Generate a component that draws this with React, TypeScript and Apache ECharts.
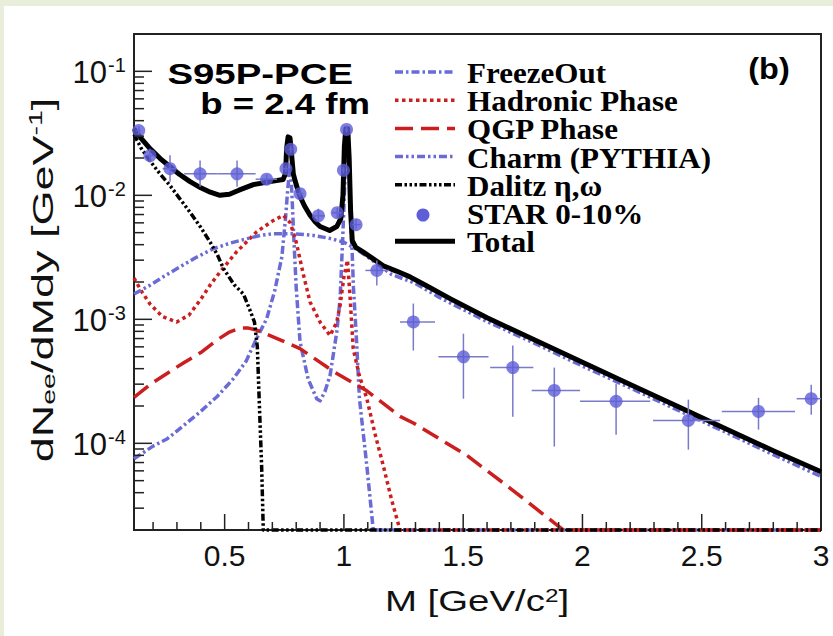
import React, { useEffect, useRef } from "react";
import * as echarts from "echarts";

const X_MIN = 0.12;
const X_MAX = 3.0;
const Y_MIN = 2e-5;
const Y_MAX = 0.2;

// ---------- curves (M in GeV/c^2, dN/dMdy in GeV^-1) ----------
const totalM = [0.12, 0.15, 0.187, 0.23, 0.271, 0.31, 0.355, 0.4, 0.44, 0.48, 0.52, 0.56, 0.62, 0.69, 0.745, 0.755, 0.76, 0.766, 0.774, 0.78, 0.788, 0.8, 0.816, 0.835, 0.858, 0.88, 0.9, 0.94, 0.97, 0.987, 0.996, 1.002, 1.008, 1.016, 1.022, 1.028, 1.035, 1.05, 1.08, 1.12, 1.165, 1.22, 1.277, 1.35, 1.445, 1.6, 1.8, 2.0, 2.2, 2.4, 2.6, 2.8, 3.0];
const totalY = [0.0345, 0.0288, 0.0238, 0.0198, 0.017, 0.0148, 0.0129, 0.0115, 0.0106, 0.01, 0.0102, 0.011, 0.0122, 0.0129, 0.0134, 0.015, 0.024, 0.0296, 0.029, 0.022, 0.0148, 0.0122, 0.0098, 0.0082, 0.0069, 0.0061, 0.0056, 0.0052, 0.0056, 0.0065, 0.01, 0.025, 0.0345, 0.0345, 0.02, 0.0075, 0.0043, 0.0038, 0.0035, 0.0031, 0.0027, 0.00245, 0.0022, 0.00185, 0.00147, 0.00103, 0.00068, 0.00045, 0.000298, 0.000198, 0.000131, 0.000087, 0.000059];

const freezeM = [0.12, 0.2, 0.26, 0.33, 0.397, 0.47, 0.537, 0.59, 0.634, 0.676, 0.71, 0.74, 0.755, 0.765, 0.772, 0.78, 0.79, 0.8, 0.816, 0.85, 0.886, 0.9, 0.92, 0.942, 0.97, 0.984, 0.995, 1.005, 1.012, 1.02, 1.03, 1.04, 1.051, 1.065, 1.096, 1.123, 3.0];
const freezeY = [0.000075, 0.000095, 0.000109, 0.00014, 0.000179, 0.00024, 0.000333, 0.00046, 0.0007, 0.00101, 0.0017, 0.0032, 0.0065, 0.0115, 0.016, 0.0125, 0.0045, 0.0018, 0.00066, 0.00033, 0.000229, 0.00022, 0.00026, 0.000353, 0.00079, 0.00147, 0.0045, 0.015, 0.027, 0.022, 0.006, 0.0018, 0.00079, 0.00023, 0.000066, 0.00002, 0.00002];

const hadronM = [0.12, 0.15, 0.187, 0.24, 0.299, 0.35, 0.4, 0.44, 0.48, 0.55, 0.634, 0.7, 0.746, 0.775, 0.8, 0.83, 0.858, 0.9, 0.942, 0.97, 0.984, 1.0, 1.015, 1.025, 1.039, 1.065, 1.096, 1.13, 1.165, 1.2, 1.235, 3.0];
const hadronY = [0.00215, 0.0017, 0.00133, 0.00105, 0.00095, 0.00108, 0.00145, 0.0019, 0.0024, 0.0035, 0.00507, 0.0062, 0.0069, 0.006, 0.0042, 0.0023, 0.00138, 0.00095, 0.00074, 0.00095, 0.0013, 0.0022, 0.003, 0.0016, 0.00058, 0.00035, 0.00023, 0.00012, 0.000066, 0.000035, 0.00002, 0.00002];

const qgpM = [0.12, 0.2, 0.327, 0.4, 0.467, 0.52, 0.564, 0.6, 0.634, 0.72, 0.816, 0.956, 1.096, 1.235, 1.291, 1.515, 1.7, 1.892, 1.92, 3.0];
const qgpY = [0.000235, 0.00031, 0.000445, 0.00054, 0.00068, 0.00079, 0.00085, 0.00085, 0.00082, 0.0007, 0.00058, 0.00038, 0.000265, 0.000165, 0.000146, 0.00008, 0.000043, 0.000022, 0.00002, 0.00002];

const charmM = [0.12, 0.187, 0.25, 0.313, 0.38, 0.451, 0.52, 0.593, 0.65, 0.704, 0.79, 0.872, 0.94, 0.998, 1.05, 1.109, 1.2, 1.3, 1.4, 1.6, 1.8, 2.0, 2.2, 2.4, 2.6, 2.8, 3.0];
const charmY = [0.0016, 0.00188, 0.00225, 0.00265, 0.00315, 0.0037, 0.0041, 0.00447, 0.00475, 0.0049, 0.0049, 0.00475, 0.0045, 0.0042, 0.0037, 0.00309, 0.0023, 0.00195, 0.0015, 0.00096, 0.00064, 0.00042, 0.00028, 0.000185, 0.000123, 0.000081, 0.000054];

const dalitzM = [0.12, 0.15, 0.187, 0.23, 0.271, 0.31, 0.355, 0.4, 0.439, 0.47, 0.495, 0.54, 0.579, 0.605, 0.625, 0.637, 0.645, 0.655, 0.662, 3.0];
const dalitzY = [0.031, 0.024, 0.019, 0.0148, 0.012, 0.0095, 0.0073, 0.0055, 0.0042, 0.0033, 0.00257, 0.0019, 0.0016, 0.0012, 0.00095, 0.0006, 0.00022, 0.000066, 0.00002, 0.00002];

// ---------- STAR 0-10% data ----------
const starM = [0.14, 0.187, 0.271, 0.397, 0.552, 0.676, 0.757, 0.777, 0.816, 0.893, 0.972, 0.998, 1.011, 1.051, 1.138, 1.291, 1.501, 1.708, 1.882, 2.141, 2.444, 2.738, 2.959];
const starY = [0.0333, 0.0209, 0.0164, 0.0149, 0.0149, 0.0135, 0.0164, 0.0235, 0.0103, 0.00683, 0.00724, 0.0159, 0.034, 0.0058, 0.00248, 0.000953, 0.000498, 0.000408, 0.000267, 0.000218, 0.000153, 0.000181, 0.000229];
const starYLo = [0.031, 0.0184, 0.01285, 0.01175, 0.01175, 0.0122, 0.0155, 0.022, 0.0097, 0.0062, 0.0066, 0.015, 0.032, 0.0053, 0.00187, 0.00056, 0.000229, 0.000164, 0.0000942, 0.0001175, 0.0000889, 0.000129, 0.00017];
const starYHi = [0.036, 0.0238, 0.021, 0.0191, 0.0191, 0.0147, 0.0174, 0.025, 0.011, 0.0078, 0.0079, 0.017, 0.036, 0.0064, 0.00298, 0.00134, 0.000766, 0.000614, 0.000408, 0.000303, 0.000225, 0.000233, 0.000297];
const starMLo = [0.13, 0.175, 0.24, 0.33, 0.47, 0.63, 0.745, 0.77, 0.8, 0.87, 0.95, 0.993, 1.005, 1.035, 1.09, 1.235, 1.396, 1.613, 1.787, 1.99, 2.296, 2.584, 2.898];
const starMHi = [0.15, 0.2, 0.3, 0.47, 0.63, 0.72, 0.77, 0.785, 0.83, 0.92, 0.99, 1.003, 1.017, 1.07, 1.19, 1.382, 1.606, 1.794, 1.99, 2.284, 2.577, 2.891, 3.0];

// ---------- axes ----------
const xMajorTicks = [0.5, 1, 1.5, 2, 2.5, 3];
const xTickLabels = ["0.5", "1", "1.5", "2", "2.5", "3"];
const xMinorTicks = [0.2, 0.3, 0.4, 0.6, 0.7, 0.8, 0.9, 1.1, 1.2, 1.3, 1.4, 1.6, 1.7, 1.8, 1.9, 2.1, 2.2, 2.3, 2.4, 2.6, 2.7, 2.8, 2.9];
const yMajorTicks = [1e-4, 1e-3, 1e-2, 1e-1];
const yTickExponents = ["-4", "-3", "-2", "-1"];
const yMinorMantissas = [2, 3, 4, 5, 6, 7, 8, 9];
const yMinorDecades = [1e-5, 1e-4, 1e-3, 1e-2];

const legendLabels = ["FreezeOut", "Hadronic Phase", "QGP Phase", "Charm (PYTHIA)", "Dalitz \u03b7,\u03c9", "STAR 0-10%", "Total"];

const BLUE = "#6b6bd6";
const BLUE_MARK = "#5e5ed8";
const RED = "#cc1e1e";
const BLACK = "#000000";
const AXIS = "#222222";

const DASH_FREEZE = [8, 3, 2.5, 3];
const DASH_HADRON = [3.5, 3.5];
const DASH_QGP = [18, 8];
const DASH_CHARM = [8, 3, 2.5, 3, 2.5, 3];
const DASH_DALITZ = [7, 2.5, 2.5, 2.5, 2.5, 2.5, 2.5, 2.5];

const SANS = '"Liberation Sans", Arial, Helvetica, sans-serif';
const SERIF = '"Liberation Serif", "Times New Roman", serif';

const pairs = (m: number[], y: number[]) => m.map((v, i) => [v, y[i]]);

export default function App() {
  const ref = useRef<HTMLDivElement>(null);

  useEffect(() => {
    if (!ref.current) return;
    const chart = echarts.init(ref.current, null, { renderer: "svg" });

    const yMinorTicks: number[] = [];
    yMinorDecades.forEach((d) =>
      yMinorMantissas.forEach((k) => {
        const v = k * d;
        if (v > Y_MIN * 1.01 && v < Y_MAX * 0.99) yMinorTicks.push(v);
      })
    );

    const lineSeries = (name: string, m: number[], y: number[], color: string, dash: any, width: number, z: number) => ({
      type: "line",
      name,
      data: pairs(m, y),
      showSymbol: false,
      symbol: "none",
      clip: false,
      z,
      lineStyle: { color, width, type: dash, cap: "butt", join: "round" },
    });

    const starData = starM.map((m, i) => [m, starY[i], starMLo[i], starMHi[i], starYLo[i], starYHi[i]]);

    const legendItems = [
      { kind: "line", color: BLUE, dash: DASH_FREEZE, width: 3.5 },
      { kind: "line", color: RED, dash: DASH_HADRON, width: 3.5 },
      { kind: "line", color: RED, dash: DASH_QGP, width: 3.5 },
      { kind: "line", color: BLUE, dash: DASH_CHARM, width: 3.5 },
      { kind: "line", color: BLACK, dash: DASH_DALITZ, width: 3.5 },
      { kind: "dot", color: BLUE_MARK, dash: null, width: 0 },
      { kind: "line", color: BLACK, dash: null, width: 5 },
    ];

    const legendGraphics: any[] = [];
    legendItems.forEach((it, i) => {
      const y = 72 + 28.2 * i;
      if (it.kind === "line") {
        legendGraphics.push({
          type: "line",
          shape: { x1: 395, y1: y, x2: 455, y2: y },
          style: { stroke: it.color, lineWidth: it.width, lineDash: it.dash || undefined },
          silent: true,
        });
      } else {
        legendGraphics.push({
          type: "circle",
          shape: { cx: 423, cy: y + 2, r: 6.5 },
          style: { fill: it.color },
          silent: true,
        });
      }
      legendGraphics.push({
        type: "text",
        x: 467,
        y: y + 1,
        scaleX: 1.09,
        style: {
          text: legendLabels[i],
          font: `bold 28.5px ${SERIF}`,
          fill: "#000",
          align: "left",
          verticalAlign: "middle",
        },
        silent: true,
      });
    });

    const option: any = {
      animation: false,
      backgroundColor: "#ffffff",
      grid: {
        left: 134,
        top: 34,
        width: 687,
        height: 496,
        show: true,
        borderColor: AXIS,
        borderWidth: 2,
        backgroundColor: "transparent",
        containLabel: false,
      },
      xAxis: {
        type: "value",
        min: X_MIN,
        max: X_MAX,
        axisLine: { show: false },
        axisTick: { show: false },
        axisLabel: { show: false },
        splitLine: { show: false },
      },
      yAxis: {
        type: "log",
        logBase: 10,
        min: Y_MIN,
        max: Y_MAX,
        axisLine: { show: false },
        axisTick: { show: false },
        axisLabel: { show: false },
        splitLine: { show: false },
      },
      series: [
        // x minor ticks
        {
          type: "custom",
          silent: true,
          z: 20,
          data: xMinorTicks.map((v) => [v, Y_MIN]),
          encode: { x: 0, y: 1 },
          renderItem: (params: any, api: any) => {
            const p = api.coord([api.value(0), Y_MIN]);
            return {
              type: "line",
              shape: { x1: p[0], y1: p[1], x2: p[0], y2: p[1] - 8 },
              style: { stroke: AXIS, lineWidth: 1.5 },
            };
          },
        },
        // x major ticks + labels
        {
          type: "custom",
          silent: true,
          z: 20,
          data: xMajorTicks.map((v) => [v, Y_MIN]),
          encode: { x: 0, y: 1 },
          renderItem: (params: any, api: any) => {
            const p = api.coord([api.value(0), Y_MIN]);
            return {
              type: "group",
              children: [
                {
                  type: "line",
                  shape: { x1: p[0], y1: p[1], x2: p[0], y2: p[1] - 16 },
                  style: { stroke: AXIS, lineWidth: 1.5 },
                },
                {
                  type: "text",
                  x: p[0],
                  y: p[1] + 25,
                  style: {
                    text: xTickLabels[params.dataIndex],
                    font: `normal 30px ${SANS}`,
                    fill: "#111",
                    align: "center",
                    verticalAlign: "middle",
                  },
                },
              ],
            };
          },
        },
        // y minor ticks
        {
          type: "custom",
          silent: true,
          z: 20,
          data: yMinorTicks.map((v) => [X_MIN, v]),
          encode: { x: 0, y: 1 },
          renderItem: (params: any, api: any) => {
            const p = api.coord([X_MIN, api.value(1)]);
            return {
              type: "line",
              shape: { x1: p[0], y1: p[1], x2: p[0] + 10, y2: p[1] },
              style: { stroke: AXIS, lineWidth: 1.5 },
            };
          },
        },
        // y major ticks + labels
        {
          type: "custom",
          silent: true,
          z: 20,
          data: yMajorTicks.map((v) => [X_MIN, v]),
          encode: { x: 0, y: 1 },
          renderItem: (params: any, api: any) => {
            const p = api.coord([X_MIN, api.value(1)]);
            return {
              type: "group",
              children: [
                {
                  type: "line",
                  shape: { x1: p[0], y1: p[1], x2: p[0] + 18, y2: p[1] },
                  style: { stroke: AXIS, lineWidth: 1.5 },
                },
                {
                  type: "text",
                  x: p[0] - 27,
                  y: p[1] + 1,
                  style: {
                    text: "10",
                    font: `normal 31px ${SANS}`,
                    fill: "#111",
                    align: "right",
                    verticalAlign: "middle",
                  },
                },
                {
                  type: "text",
                  x: p[0] - 26,
                  y: p[1] - 6,
                  style: {
                    text: yTickExponents[params.dataIndex],
                    font: `normal 20px ${SANS}`,
                    fill: "#111",
                    align: "left",
                    verticalAlign: "middle",
                  },
                },
              ],
            };
          },
        },
        lineSeries(legendLabels[0], freezeM, freezeY, BLUE, DASH_FREEZE, 3.5, 3),
        lineSeries(legendLabels[1], hadronM, hadronY, RED, DASH_HADRON, 3.5, 3),
        lineSeries(legendLabels[2], qgpM, qgpY, RED, DASH_QGP, 3.5, 3),
        lineSeries(legendLabels[3], charmM, charmY, BLUE, DASH_CHARM, 3.5, 3),
        lineSeries(legendLabels[4], dalitzM, dalitzY, BLACK, DASH_DALITZ, 3.5, 3),
        lineSeries(legendLabels[6], totalM, totalY, BLACK, "solid", 5, 5),
        // STAR error bars
        {
          type: "custom",
          name: "STAR errors",
          silent: true,
          z: 6,
          data: starData,
          encode: { x: 0, y: 1 },
          renderItem: (params: any, api: any) => {
            const m = api.value(0);
            const y = api.value(1);
            const c = api.coord([m, y]);
            const l = api.coord([api.value(2), y]);
            const r = api.coord([api.value(3), y]);
            const lo = api.coord([m, api.value(4)]);
            const hi = api.coord([m, api.value(5)]);
            const st = { stroke: "#7a7ac8", lineWidth: 1.5 };
            return {
              type: "group",
              children: [
                { type: "line", shape: { x1: l[0], y1: c[1], x2: r[0], y2: c[1] }, style: st },
                { type: "line", shape: { x1: c[0], y1: hi[1], x2: c[0], y2: lo[1] }, style: st },
              ],
            };
          },
        },
        {
          type: "scatter",
          name: legendLabels[5],
          data: pairs(starM, starY),
          symbol: "circle",
          symbolSize: 13,
          itemStyle: { color: BLUE_MARK },
          z: 7,
        },
      ],
      graphic: [
        { type: "rect", shape: { x: 0, y: 0, width: 833, height: 6 }, style: { fill: "#e8eed9" }, silent: true },
        { type: "rect", shape: { x: 0, y: 0, width: 4, height: 636 }, style: { fill: "#e8eed9" }, silent: true },
        {
          type: "text",
          x: 353,
          y: 74,
          scaleX: 1.28,
          style: { text: "S95P-PCE", font: `bold 30px ${SANS}`, fill: "#000", align: "right", verticalAlign: "middle" },
          silent: true,
        },
        {
          type: "text",
          x: 370,
          y: 104,
          scaleX: 1.22,
          style: { text: "b = 2.4 fm", font: `bold 30px ${SANS}`, fill: "#000", align: "right", verticalAlign: "middle" },
          silent: true,
        },
        {
          type: "text",
          x: 769,
          y: 69,
          scaleX: 1.08,
          style: { text: "(b)", font: `bold 30px ${SANS}`, fill: "#000", align: "center", verticalAlign: "middle" },
          silent: true,
        },
        {
          type: "text",
          x: 477,
          y: 601,
          scaleX: 1.28,
          style: {
            text: "M [GeV/c{sup|2}]",
            font: `normal 30px ${SANS}`,
            fill: "#111",
            align: "center",
            verticalAlign: "middle",
            rich: {
              sup: { font: `normal 19px ${SANS}`, fill: "#111", verticalAlign: "top", padding: [0, 0, 12, 0] },
            },
          },
          silent: true,
        },
        {
          type: "text",
          x: 42,
          y: 280,
          rotation: Math.PI / 2,
          scaleX: 1.5,
          style: {
            text: "dN{sub|ee}/dMdy [GeV{sup|-1}]",
            font: `normal 30px ${SANS}`,
            fill: "#111",
            align: "center",
            verticalAlign: "middle",
            rich: {
              sub: { font: `normal 19px ${SANS}`, fill: "#111", padding: [13, 0, 0, 0] },
              sup: { font: `normal 19px ${SANS}`, fill: "#111", padding: [0, 0, 13, 0] },
            },
          },
          silent: true,
        },
        ...legendGraphics,
      ],
    };

    chart.setOption(option);
    return () => chart.dispose();
  }, []);

  return (
    <div
      ref={ref}
      style={{ position: "fixed", left: 0, top: 0, width: 833, height: 636, background: "#ffffff" }}
    />
  );
}
